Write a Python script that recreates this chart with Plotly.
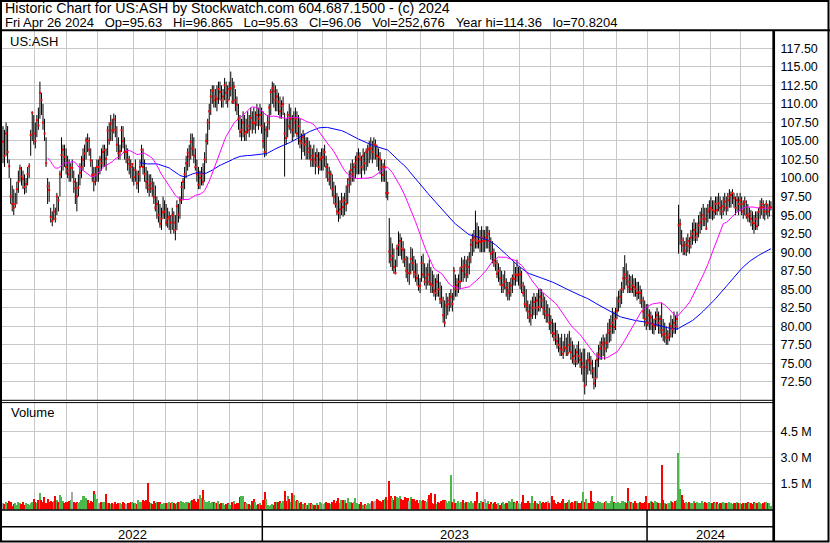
import plotly.graph_objects as go
import pandas as pd

# ---------------- data (high, low, close) per month ----------------
m2022_05 = [(107,102,104.9),(106.5,101.5,103),(107.5,103,106),(107,102,103.5),(102.5,100,101.6),(100,96.5,97.5),(99,95.5,96.5),(98.5,95,96),(98,96,96.5),(99.5,96.5,98.5),(101,98,99.5),(101.8,99.5,101.3),(101.5,99,100.2),(101,98.5,99.9),(100.5,97.8,98.8),(100,98,99.2),(101.5,99,100.5),(102,100,101.6),(106.5,103,105.8),(109,105,108.8),(108.5,104.5,106)]
m2022_06 = [(107.5,104,105),(108.5,105.5,107.8),(109.5,106.5,107.1),(113,108,111.5),(111.5,108.5,110.5),(110,106.5,107.5),(108,105,106),(105.5,101.5,102),(100,96.5,98.9),(99.5,96.8,98.4),(96,94,94.75),(95.5,93.5,94.2),(96.5,94.3,95.5),(96,94,94.5),(98,95,97.5),(97.5,95.5,97),(101,97.5,100.5),(105.5,100,103.1),(104.5,101,103.8),(104.5,101.5,102.85),(104,100.5,101.5)]
m2022_07 = [(103,100,101),(102.5,99.5,100.5),(102,99.5,101.4),(102.5,100,101.4),(101,98,99.5),(100,96.5,98.6),(99.5,95.5,97.5),(100.5,97.5,98.7),(102,99,100.7),(103,100,101.5),(104,101,102.5),(104.5,101.5,103.3),(105.5,102.5,105.1),(106,103.5,105),(105.5,103,103.8),(104,101.5,102.4),(102.5,99.5,100.4),(101.5,98.2,99.5),(101.5,99,100.5),(102.5,99.5,101.5)]
m2022_08 = [(102.5,99.5,101.5),(103,100.5,102.5),(104,101,102),(104.5,101.5,103.5),(104.5,101.5,103.75),(104,101,102.6),(107,103,106.4),(107.5,104.5,105.1),(108.5,105,107.35),(108,105,106.4),(108.7,106,107.9),(108.5,105.5,106.5),(107,103.5,104.5),(105.5,102.5,103.3),(104.5,102.5,103.6),(107,103.5,106.45),(107,104,105),(105.5,102.5,103.5),(104.5,102,103.5),(104,101,102.5),(103,100.5,101.9),(102.5,100,101.5),(102,99.5,101.9)]
m2022_09 = [(101.5,99,100.15),(102.5,99.5,101.1),(101,98.5,99.25),(101,98,100.5),(102.5,99.5,101.5),(104.5,101.5,103.8),(104,100.5,101.5),(102.5,99.5,100.5),(101.5,98.5,99.5),(101,98,99),(100.5,97.5,98.5),(100.5,98,99.25),(100,97.5,98.6),(99.5,96.5,97.4),(99,95.5,96),(97.5,94.5,96.5),(97,94,95),(96.5,93.3,93.85),(96,93,94.5),(97.5,94.5,95.4),(97,94.5,95.5)]
m2022_10 = [(96.5,93.5,94),(96,93.3,94.5),(95.5,93,94.75),(95,92.5,94),(96,93,95),(95.5,92.5,94),(95,91.6,93),(97,93,96.2),(96.5,94,95.1),(97.5,94.5,97),(99.5,96.5,98.8),(100,97,99.5),(101.5,98.5,100.5),(103,100,102),(104,101,103.4),(104.5,101.5,102.9),(106,102.5,104.9),(106,103,104),(105.5,102,103),(104,101,101.5),(102.5,99.5,100.5)]
m2022_11 = [(101.5,98.5,99.1),(101,98.5,100),(101.5,99,100.5),(102,99,99.5),(103.5,99.5,102.5),(106,102,105),(108,104.5,107.5),(110,106.5,109),(112,108.5,111),(112.5,110,111.8),(112.5,109.5,110.5),(112,109.5,111),(112.5,109,110.7),(113,110,112),(113,110.5,111.6),(112.5,109.5,110.5),(112,109.5,111),(113.5,110.5,112.5),(113,110,111.5),(112.5,109.5,110.5),(113,110.5,112)]
m2022_12 = [(114.36,111,112.1),(113.5,110,110.3),(113,110,112.3),(112,109,110.5),(111,108.5,109.9),(110,106.5,108),(108.5,105.5,106.2),(108,105,106.5),(109,105.5,107.5),(108.5,105,106),(108,105,106.2),(109,106,107),(108.5,105.5,106.45),(109.5,106.5,108.1),(109,106,107.5),(109.5,106.5,107.35),(109,106,107.5),(110,107,108.5),(109.5,106.5,108),(110,107,108.5),(109.5,106,107)]
m2023_01 = [(109,104,105),(107.5,102.8,103.5),(107,103,106.5),(108.5,105.5,107.5),(110,106.5,109.5),(112,108.5,111.6),(113,110,112.1),(112.8,109.5,111.7),(112.5,109,110.5),(112,109,111),(111.5,108.5,110.3),(111,108,109),(110.5,108,109.75),(111,108.5,110),(108.8,100.2,106),(108,104.5,105.4),(109,105.5,108.5),(110,106.5,107),(109.5,106,108),(108.5,105,106.5)]
m2023_02 = [(109,105.5,107.5),(109.5,106,108),(109,105.5,106),(108.5,104.5,107),(108,104,105),(106,102.5,104.7),(106.5,103.5,105.5),(106,103,104.5),(105.5,102.5,104.9),(105.5,102.5,103.5),(105,102.5,104),(104.5,101.5,102.5),(104,101.5,103),(104.5,101.5,102.5),(103.5,100.5,102.1),(104,101.5,103),(103.5,100.5,101.5),(103.5,101,102.5),(104,101,102.8)]
m2023_03 = [(104,101,102.8),(104.5,101.5,103.5),(103,100,101.5),(102,99.5,100.7),(101.5,99,99.8),(101,98.5,100.5),(100.5,97.5,98.5),(99.5,96.5,97.5),(99,96,96.5),(98,95,95.5),(97.5,94.1,95.3),(97,94.5,95.8),(98,95,96.8),(97.5,94.8,96.1),(98,95,97),(99,95.5,96.5),(100,96.5,99),(101,98,99.8),(102,99,101.1),(102.5,99.5,100.5),(102,99.5,101.5),(103,100,102),(103.5,100.5,102.5)]
m2023_04 = [(104,100.5,102.9),(103.5,100.5,102.5),(103,100,101.5),(104,101,103),(103.5,100.5,102),(104,101,103.5),(104.5,101.5,103.8),(105,102,104),(105.5,102.5,104),(105,102,103.5),(105.5,102.5,104.5),(105.2,102.5,104.5),(104.5,101.5,103),(104,101,102.8),(103.5,100.5,102.5),(102.5,99.5,101.5),(102,99.5,100.4),(102.5,99.5,101.5),(101,97.3,98)]
m2023_05 = [(99.5,97,98),(94.6,88.5,90.1),(92,88,89),(91.2,87.5,89.5),(90.5,87.1,88),(89,87,87.2),(91,88,90.5),(92.8,89.5,91),(92.5,89.5,91.5),(92,89,90.5),(91.5,88.5,90.3),(90.5,88,89),(89.5,86.5,87.5),(89.4,86,87.2),(88.5,85.6,87.2),(90.7,87,89.1),(90.5,87.5,88.5),(89.5,86.5,87.3),(89,86,87),(88.5,85.5,86.5),(87,84.8,85.4),(86.5,84.5,85.5)]
m2023_06 = [(89.5,86,88.5),(89.8,86.5,87),(88.5,85.5,86),(88,85,86.5),(88.5,85.5,87),(89,85.5,86),(88,84.5,85.7),(87.5,84.5,85.5),(87,84,84.8),(86.5,83.5,84.5),(87,84,86),(87.1,84,85),(86,83,83.7),(85.5,82.5,83.5),(84,80.5,81.5),(83.5,79.9,80.5),(84.5,81,82.8),(84,81.5,83),(84.5,82,83.5),(85,82.5,84),(84.5,82,83)]
m2023_07 = [(88,83.5,87.5),(87,84,85),(86.5,84,85.5),(87,84.5,86),(88,85,86),(89.3,86,88),(89,86,87.5),(89.5,86.5,88.2),(89,86,87),(89.5,86.5,88),(90,87,89),(91.8,88.5,91),(92.5,89.5,91.6),(93,90,92),(95.6,90.5,91.6),(94,90.5,91.2),(93.5,90.5,91.5),(93,90,91.4),(93.5,90,92),(93,90,91.5)]
m2023_08 = [(93,90,91.5),(93.5,90.5,92),(93.5,90.5,92.5),(93,90,91.5),(92,89,89.8),(91.5,88.5,90),(90.5,88,88.9),(90,87.5,88.5),(89,86.5,87.1),(88.5,86,87.5),(88,85.5,86.5),(87.5,84.5,85.5),(87,84.5,85.6),(87.5,85,86),(86.5,84,85.2),(86,83.5,84.5),(86,83.5,84.8),(86.5,84,85.5),(87,84.5,86.5),(88.7,85.5,86.4),(88,85.5,87),(89,86,86.9),(88,85.5,87)]
m2023_09 = [(88,85,87),(87.5,84.5,85.5),(86,84,84.5),(85.5,82.5,83),(85,82,82.8),(83.5,81,82),(83,80.5,81.2),(83.5,80.1,81.5),(84,81,82.5),(84.5,81.5,83.3),(84,81,82.5),(84.5,81.5,83.5),(85,82,82.6),(85.1,82,84),(85,82.5,83.5),(84.5,81.5,82.5),(84,81,82),(83.5,80.5,81.5),(83,80.5,81.5),(82.5,79.5,80.5)]
m2023_10 = [(81.5,79,80.5),(81,78.5,79.1),(80.5,78,79),(80.5,77.5,78.5),(79.5,77,78),(79,76.5,77.5),(78.5,76,77),(79,76,76.8),(78,75.6,76.3),(79,76.5,77.2),(78.5,76,77),(79,76,76.4),(79.4,76.5,77.5),(78.5,75.5,76.5),(78,75,75.7),(77.5,74.8,76),(77,74.5,75.3),(77.5,74.8,76.5),(78,75,76),(77,74.4,75.5),(76.5,73.5,74.5),(77,72.5,75)]
m2023_11 = [(77,70.82,72),(75.5,72,74.5),(76.5,73.5,75.5),(76.5,74,75.3),(76,73.5,75),(75.5,73,74),(74.5,71.5,72.3),(75.5,71.8,73),(76.5,73,75.5),(77.5,74.5,76.2),(78,75.5,77),(78.5,75.5,77.5),(78.9,76,77.8),(78.5,75.5,77),(79,76.5,77.8),(80.5,77,79.1),(81,77.8,79.5),(81.5,78,80),(82.5,79,80.5),(82,79,79.9),(82.5,79.5,81)]
m2023_12 = [(84,81,82.1),(84.8,82,83.4),(85,82.5,84),(86,83,85),(88,84.5,86.5),(89.6,85,87),(88.5,85.5,86.5),(87.5,84.5,85.3),(87,84.5,86),(86.8,84.5,85),(87,84.5,85.5),(86.5,84,85.3),(86.5,84,85),(86,83.5,84.5),(86,83.7,84.6),(85.5,83,84.5),(85,82.5,83.5),(84,81,82),(83.5,80,81),(83,79.5,80.5)]
m2024_01 = [(83,80,81.5),(82.3,79.5,80.5),(82,79.5,81.2),(81.5,79,80.3),(81,78.9,80),(82,79.5,81),(82.5,80,81.5),(82,79,80.5),(81.5,79,81),(83.2,78.5,79.5),(81,78,78.9),(80.5,77.8,79),(80,77.5,78.5),(79.5,77.5,78.5),(80.5,78,78.9),(81.5,78.5,80),(81,78.5,79.6),(82,79,80.5),(81.5,79,80),(82,79.5,81),(96.4,89.8,93.6)]
m2024_02 = [(94.5,91,93.8),(93,90,91.6),(92,89.6,90.9),(91.5,89.6,90.2),(92,89.5,91),(92.5,90,91.5),(92,89.8,90.8),(93,90.5,92),(94,91,92.5),(94.5,91.5,93),(94,91.2,92),(94,91.5,92.5),(95,92,93.6),(95.5,92.5,94),(96,93,94.5),(96.5,93.5,95),(96,93.5,94.5),(96,93,93.2),(96.5,94,95.5),(97,94.5,95.8)]
m2024_03 = [(97.5,94.5,96),(97,94.3,95.7),(97,94.5,95.5),(97.5,95,96.5),(97.5,95,95.7),(98,95.5,96.6),(97.5,95,96),(97,94.5,95.5),(97.5,95,96.2),(98,95.5,96.8),(97.5,95,96),(98,95.5,97),(98.5,96,97.5),(98.2,96,97.7),(98.5,96.5,98),(98,96,97.3),(97.5,95,96),(98,95.5,97),(97.5,95,96.5),(98,95.5,97)]
m2024_04 = [(97.5,95,96.5),(97,94.5,95.5),(97.5,95,96.8),(97,94.5,95),(96.5,94.1,94.8),(96,94,95.2),(95.7,93.5,94.5),(95.5,93,94),(95,92.5,93.9),(95.5,93,94.5),(95.5,93,93.5),(96,93.5,95.5),(97,94.5,96),(97.3,95,96.5),(97,94.5,96.1),(96.5,94.3,95.5),(97,95,96.5),(96.5,94.5,95.5),(97,94.8,96),(96.865,95.63,96.06)]

# ---------------- volume (thousands) per month ----------------
v2022_05 = [420,330,480,400,520,430,250,330,420,300,470,380,330,440,300,380,330,290,400,430,640]
v2022_06 = [480,420,560,1000,560,480,770,420,620,460,520,440,520,810,560,470,870,770,520,420,440]
v2022_07 = [480,520,580,1040,460,400,480,380,480,560,820,780,660,560,420,540,480,1100,940,640]
v2022_08 = [380,420,480,440,480,940,420,380,320,420,330,430,360,400,380,330,440,420,330,380,420,460,430]
v2022_09 = [380,380,320,600,480,460,560,520,560,1560,480,420,360,520,380,440,430,480,360,330,420]
v2022_10 = [380,370,430,380,430,400,320,380,430,480,520,440,380,470,480,420,520,560,610,540,430]
v2022_11 = [620,850,680,1150,560,480,460,520,420,460,440,380,420,520,360,380,420,300,360,420,330]
v2022_12 = [300,430,520,350,380,380,760,820,800,450,400,330,330,280,520,640,430,300,330,400,300]
v2023_01 = [560,1040,640,300,250,260,320,280,430,480,430,540,420,530,1100,520,820,620,430,950]
v2023_02 = [860,540,560,520,420,480,360,420,300,300,380,420,360,300,280,380,260,480,380]
v2023_03 = [320,400,440,420,380,320,480,600,420,520,710,420,560,580,560,420,710,480,440,380,450,710,400]
v2023_04 = [330,320,460,280,330,300,380,360,420,500,460,520,640,580,520,480,560,620,760]
v2023_05 = [600,1670,820,700,560,780,740,680,800,620,560,720,680,700,500,760,640,620,520,600,380,560]
v2023_06 = [520,600,520,460,640,880,1000,420,360,940,320,440,380,520,560,580,500,420,540,2000,430]
v2023_07 = [620,380,420,500,380,460,560,380,460,480,420,500,380,420,500,1040,420,380,500,470]
v2023_08 = [640,380,500,330,440,330,380,440,320,380,300,420,460,330,380,420,500,450,620,480,380,500,420]
v2023_09 = [360,480,860,420,380,520,420,420,800,380,500,420,360,500,420,480,380,440,520,420]
v2023_10 = [420,800,580,420,360,440,420,520,640,380,420,480,560,420,460,380,520,500,420,380,520,1040]
v2023_11 = [480,640,420,380,1100,520,460,380,420,500,440,420,380,460,520,420,380,500,820,440,420]
v2023_12 = [380,460,420,520,500,480,420,1290,520,460,380,420,500,420,380,460,420,380,440,800]
v2024_01 = [420,380,500,460,380,520,460,420,380,2600,560,420,360,380,420,500,460,420,520,560,3270]
v2024_02 = [1190,850,560,420,480,380,460,420,380,500,420,460,380,420,500,380,440,420,380,460]
v2024_03 = [380,420,460,380,440,360,420,380,460,420,400,380,440,420,360,400,420,440,380,420]
v2024_04 = [360,420,380,400,440,380,420,360,480,400,380,440,420,360,400,480,440,420,380,252.676]

month_keys = ["2022-05","2022-06","2022-07","2022-08","2022-09","2022-10","2022-11","2022-12",
              "2023-01","2023-02","2023-03","2023-04","2023-05","2023-06","2023-07","2023-08",
              "2023-09","2023-10","2023-11","2023-12","2024-01","2024-02","2024-03","2024-04"]
month_bars = [m2022_05,m2022_06,m2022_07,m2022_08,m2022_09,m2022_10,m2022_11,m2022_12,
              m2023_01,m2023_02,m2023_03,m2023_04,m2023_05,m2023_06,m2023_07,m2023_08,
              m2023_09,m2023_10,m2023_11,m2023_12,m2024_01,m2024_02,m2024_03,m2024_04]
month_vols = [v2022_05,v2022_06,v2022_07,v2022_08,v2022_09,v2022_10,v2022_11,v2022_12,
              v2023_01,v2023_02,v2023_03,v2023_04,v2023_05,v2023_06,v2023_07,v2023_08,
              v2023_09,v2023_10,v2023_11,v2023_12,v2024_01,v2024_02,v2024_03,v2024_04]

price_ticks = [72.5 + 2.5 * k for k in range(19)]
vol_ticks = [1.5e6, 3.0e6, 4.5e6]
vol_tick_text = ["1.5 M", "3.0 M", "4.5 M"]
title_1 = "Historic Chart for US:ASH by Stockwatch.com 604.687.1500 - (c) 2024"
sp = "\u00a0\u00a0\u00a0"
title_2 = ("Fri Apr 26 2024" + sp + "Op=95.63" + sp + "Hi=96.865" + sp + "Lo=95.63" + sp +
           "Cl=96.06" + sp + "Vol=252,676" + sp + "Year hi=114.36" + sp + "lo=70.8204")

# ---------------- assemble ----------------
highs, lows, closes, vols, month_start = [], [], [], [], []
for key, bars, vv in zip(month_keys, month_bars, month_vols):
    assert len(bars) == len(vv), (key, len(bars), len(vv))
    month_start.append(len(closes))
    for (h, l, c), v in zip(bars, vv):
        assert l <= c <= h, (key, h, l, c)
        highs.append(h); lows.append(l); closes.append(c); vols.append(v * 1000)
n = len(closes)
idx = list(range(n))

ma30 = pd.Series(closes).rolling(30).mean()
ma90 = pd.Series(closes).rolling(90).mean()

vcol = []
for i in range(n):
    if i == 0 or closes[i] == closes[i - 1]:
        vcol.append("#a8a8a8")
    elif closes[i] > closes[i - 1]:
        vcol.append("#4cb84c")
    else:
        vcol.append("#ff0000")

seg_x, seg_y = [], []
for i in idx:
    seg_x += [i, i, None]
    seg_y += [lows[i], highs[i], None]

W, H = 830, 543
def fx(p): return p / W
def fy(p): return 1 - p / H

grid_x = [s - 0.5 for s in month_start[1:]]
year_start = [month_start[k] for k in range(len(month_keys)) if k > 0 and month_keys[k][:4] != month_keys[k-1][:4]]
year_sep = [s - 0.5 for s in year_start]
year_edges = [-0.65] + year_sep + [501.0]
year_names = ["2022", "2023", "2024"]

FONT = "Liberation Sans, Arial, sans-serif"
GRID = "#c8c8c8"

fig = go.Figure()
fig.add_trace(go.Bar(x=idx, y=vols, marker_color=vcol, marker_line_width=0, width=0.8,
                     xaxis="x", yaxis="y", hoverinfo="skip"))
fig.add_trace(go.Scatter(x=seg_x, y=seg_y, mode="lines", line=dict(color="black", width=1.0),
                         xaxis="x2", yaxis="y2", hoverinfo="skip", connectgaps=False))
fig.add_trace(go.Scatter(x=idx, y=ma90, mode="lines", line=dict(color="#0000ff", width=1),
                         xaxis="x2", yaxis="y2", hoverinfo="skip"))
fig.add_trace(go.Scatter(x=idx, y=ma30, mode="lines", line=dict(color="#ff00ff", width=1),
                         xaxis="x2", yaxis="y2", hoverinfo="skip"))
fig.add_trace(go.Scatter(x=idx, y=closes, mode="markers",
                         marker=dict(symbol="square", size=2, color="#ff0000", line_width=0),
                         xaxis="x2", yaxis="y2", hoverinfo="skip"))

xdom = [fx(2), fx(774)]
xcommon = dict(domain=xdom, range=[-0.65, 501.0], showticklabels=False, tickvals=grid_x,
               showgrid=True, gridcolor=GRID, gridwidth=1, zeroline=False, showline=False, ticks="")
ycommon = dict(side="right", showgrid=True, gridcolor=GRID, gridwidth=1, zeroline=False,
               showline=False, ticks="outside", ticklen=3, tickcolor="rgba(0,0,0,0)",
               tickfont=dict(family=FONT, size=12.5, color="black"))

shapes = []
def hline(y, x0, x1, w):
    shapes.append(dict(type="line", xref="paper", yref="paper", x0=fx(x0), x1=fx(x1),
                       y0=fy(y), y1=fy(y), line=dict(color="black", width=w), layer="above"))
def vline(x, y0, y1, w):
    shapes.append(dict(type="line", xref="paper", yref="paper", x0=fx(x), x1=fx(x),
                       y0=fy(y0), y1=fy(y1), line=dict(color="black", width=w), layer="above"))

shapes.append(dict(type="rect", xref="paper", yref="paper", x0=fx(1), x1=fx(828.5),
                   y0=fy(541.5), y1=fy(1), line=dict(color="black", width=2), layer="above"))
hline(30.2, 0, 830, 2)
vline(773.7, 30, 542, 2.7)
hline(400.3, 0, 773.7, 1)
hline(402.6, 0, 773.7, 1)
hline(510.0, 0, 773.7, 1.6)
hline(526.7, 0, 773.7, 1.6)
for xs in year_sep:
    shapes.append(dict(type="line", xref="x", yref="paper", x0=xs, x1=xs, y0=fy(541), y1=fy(510),
                       line=dict(color="black", width=1.5), layer="above"))

ann = []
def text(x, y, s, xanchor="left", size=13):
    ann.append(dict(x=x, y=y, xref="paper", yref="paper", text=s, showarrow=False,
                    xanchor=xanchor, yanchor="middle", font=dict(family=FONT, size=size, color="black")))
text(fx(2.5), fy(8), title_1, size=14.2)
text(fx(2.5), fy(22), title_2)
text(fx(8), fy(41.5), "US:ASH")
text(fx(8.5), fy(413), "Volume")
for k, name in enumerate(year_names):
    mid = (year_edges[k] + year_edges[k + 1]) / 2
    ann.append(dict(x=mid, y=fy(534.5), xref="x", yref="paper", text=name, showarrow=False,
                    xanchor="center", yanchor="middle", font=dict(family=FONT, size=13, color="black")))

fig.update_layout(
    width=W, height=H, autosize=False, margin=dict(l=0, r=0, t=0, b=0),
    paper_bgcolor="white", plot_bgcolor="white", showlegend=False, bargap=0,
    xaxis=dict(**xcommon, anchor="y"),
    xaxis2=dict(**xcommon, anchor="y2", matches="x"),
    yaxis=dict(**ycommon, domain=[fy(509.5), fy(402.6)], range=[0, 6.17e6],
               tickvals=vol_ticks, ticktext=vol_tick_text, anchor="x"),
    yaxis2=dict(**ycommon, domain=[fy(400.3), fy(31)], range=[70.03, 119.83],
                tickvals=price_ticks, tickformat=".2f", anchor="x2"),
    shapes=shapes, annotations=ann,
)
fig.write_html(
    "out.html",
    config={"displayModeBar": False},
    post_script="document.body.style.margin='0';document.body.style.padding='0';"
                "document.documentElement.style.overflow='hidden';",
)
